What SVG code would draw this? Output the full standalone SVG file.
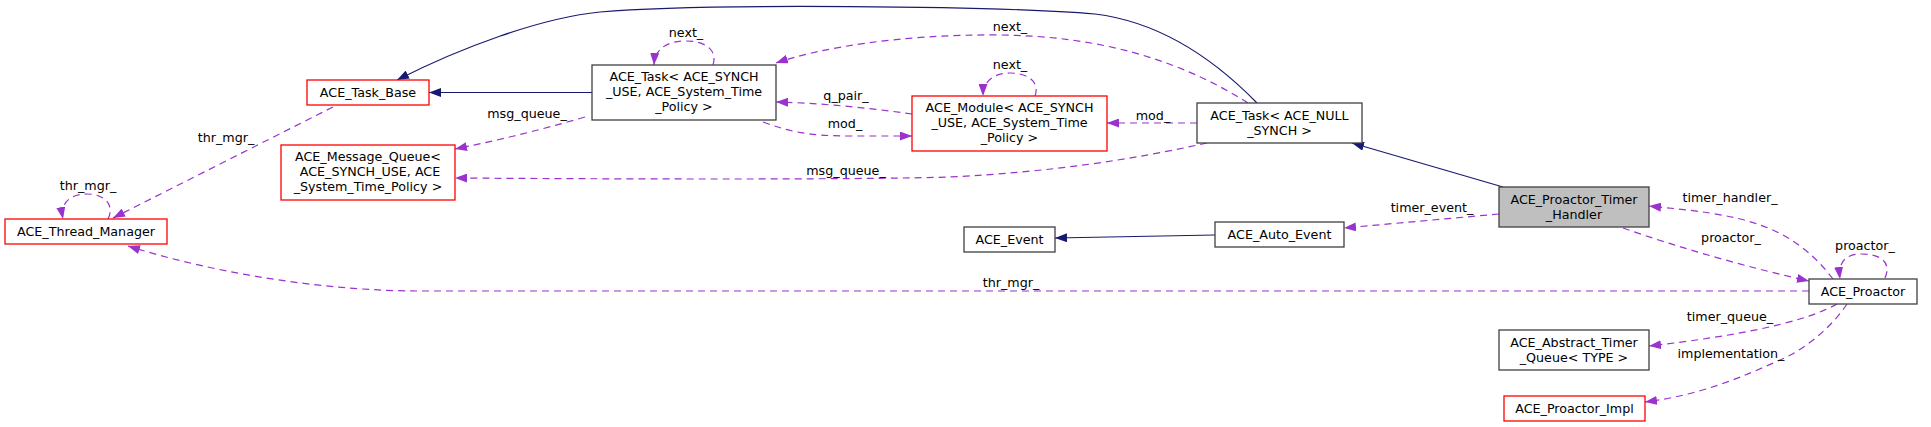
<svg xmlns="http://www.w3.org/2000/svg" width="1931" height="427" viewBox="0 0 1931 427">
<style>
text{font-family:"DejaVu Sans","Liberation Sans",sans-serif;font-size:12.7px;fill:#000;text-anchor:middle}
.nb{fill:#fff;stroke:#404040;stroke-width:1.3}
.nr{fill:#fff;stroke:#ff0000;stroke-width:1.3}
.ng{fill:#bfbfbf;stroke:#404040;stroke-width:1.3}
.inh{fill:none;stroke:#191970;stroke-width:1.2;marker-end:url(#ah)}
.use{fill:none;stroke:#9a32cd;stroke-width:1.2;stroke-dasharray:7,5;marker-end:url(#ap)}
</style>
<defs>
<marker id="ah" viewBox="0 0 12 9" refX="12" refY="4.5" markerWidth="12" markerHeight="9" markerUnits="userSpaceOnUse" orient="auto"><path d="M0,0 L12,4.5 L0,9 z" fill="#191970"/></marker>
<marker id="ap" viewBox="0 0 12 9" refX="12" refY="4.5" markerWidth="12" markerHeight="9" markerUnits="userSpaceOnUse" orient="auto"><path d="M0,0 L12,4.5 L0,9 z" fill="#9a32cd"/></marker>
</defs>
<rect width="1931" height="427" fill="#fff"/>
<g id="edges">
<path class="inh" d="M592,92.5 L429,92.5"/>
<path class="inh" d="M1257,103 C1215,60 1160,22 1095,14 C1000,6 700,3 600,12 C540,18 460,48 397,80"/>
<path class="use" d="M333,107 L113,218"/>
<path class="use" d="M108,219 C115,205 105,194 87,194 C70,194 60,203 63,219"/>
<path class="use" d="M585,117 C540,130 500,140 455,149"/>
<path class="use" d="M1207,143 C1130,160 1050,172 950,177 C850,180 600,179 455,178"/>
<path class="use" d="M713,65 C718,50 705,41 686,41 C668,41 655,48 654,65"/>
<path class="use" d="M1248,103 C1180,60 1100,36 1000,35 C900,34 820,48 776,63"/>
<path class="use" d="M912,114 C870,108 820,103 776,102"/>
<path class="use" d="M763,122 C790,132 810,136 850,136 L912,136"/>
<path class="use" d="M1035,96 C1040,82 1028,73 1010,73 C993,73 983,82 983,96"/>
<path class="use" d="M1197,123 L1107,123"/>
<path class="inh" d="M1503,187 L1352,143"/>
<path class="use" d="M1499,214 L1344,228"/>
<path class="inh" d="M1215,235 L1055,238"/>
<path class="use" d="M1623,228 C1680,248 1750,268 1809,281"/>
<path class="use" d="M1833,279 C1815,255 1790,235 1760,225 C1730,214 1690,210 1649,206"/>
<path class="use" d="M1885,278 C1892,262 1880,254 1862,254 C1845,254 1838,262 1840,279"/>
<path class="use" d="M1809,291 L420,291 C330,291 220,275 128,246"/>
<path class="use" d="M1837,304 C1800,325 1720,338 1649,346"/>
<path class="use" d="M1847,304 C1830,330 1800,352 1780,360 C1740,378 1700,395 1645,402"/>
<text x="226" y="142">thr_mgr_</text>
<text x="88" y="190">thr_mgr_</text>
<text x="527" y="118">msg_queue_</text>
<text x="846" y="175">msg_queue_</text>
<text x="686" y="37">next_</text>
<text x="1010" y="31">next_</text>
<text x="846" y="100">q_pair_</text>
<text x="845" y="128">mod_</text>
<text x="1010" y="69">next_</text>
<text x="1153" y="120">mod_</text>
<text x="1432" y="212">timer_event_</text>
<text x="1731" y="242">proactor_</text>
<text x="1730" y="202">timer_handler_</text>
<text x="1865" y="250">proactor_</text>
<text x="1011" y="287">thr_mgr_</text>
<text x="1730" y="321">timer_queue_</text>
<text x="1731" y="358">implementation_</text>
</g>
<g id="ACE_Task_Base"><rect class="nr" x="307" y="80" width="122" height="25"/><text x="368" y="97">ACE_Task_Base</text></g>
<g id="ACE_Thread_Manager"><rect class="nr" x="5" y="219" width="162" height="25"/><text x="86" y="236">ACE_Thread_Manager</text></g>
<g id="ACE_Message_Queue"><rect class="nr" x="281" y="145" width="174" height="55"/><text x="368" y="161" xml:space="preserve">ACE_Message_Queue&lt;</text><text x="368" y="176" xml:space="preserve"> ACE_SYNCH_USE, ACE</text><text x="368" y="191">_System_Time_Policy &gt;</text></g>
<g id="ACE_Task_SYNCH_USE"><rect class="nb" x="592" y="65" width="184" height="55"/><text x="684" y="81">ACE_Task&lt; ACE_SYNCH</text><text x="684" y="96">_USE, ACE_System_Time</text><text x="684" y="111">_Policy &gt;</text></g>
<g id="ACE_Module"><rect class="nr" x="912" y="96" width="195" height="55"/><text x="1009.5" y="112">ACE_Module&lt; ACE_SYNCH</text><text x="1009.5" y="127">_USE, ACE_System_Time</text><text x="1009.5" y="142">_Policy &gt;</text></g>
<g id="ACE_Task_NULL_SYNCH"><rect class="nb" x="1197" y="103" width="165" height="40"/><text x="1279.5" y="120">ACE_Task&lt; ACE_NULL</text><text x="1279.5" y="135">_SYNCH &gt;</text></g>
<g id="ACE_Proactor_Timer_Handler"><rect class="ng" x="1499" y="187" width="150" height="40"/><text x="1574" y="204">ACE_Proactor_Timer</text><text x="1574" y="219">_Handler</text></g>
<g id="ACE_Event"><rect class="nb" x="964" y="227" width="91" height="25"/><text x="1009.5" y="244">ACE_Event</text></g>
<g id="ACE_Auto_Event"><rect class="nb" x="1215" y="222" width="129" height="25"/><text x="1279.5" y="239">ACE_Auto_Event</text></g>
<g id="ACE_Proactor"><rect class="nb" x="1809" y="279" width="108" height="25"/><text x="1863" y="296">ACE_Proactor</text></g>
<g id="ACE_Abstract_Timer_Queue"><rect class="nb" x="1499" y="330" width="150" height="40"/><text x="1574" y="347">ACE_Abstract_Timer</text><text x="1574" y="362">_Queue&lt; TYPE &gt;</text></g>
<g id="ACE_Proactor_Impl"><rect class="nr" x="1504" y="396" width="141" height="25"/><text x="1574.5" y="413">ACE_Proactor_Impl</text></g>
</svg>
